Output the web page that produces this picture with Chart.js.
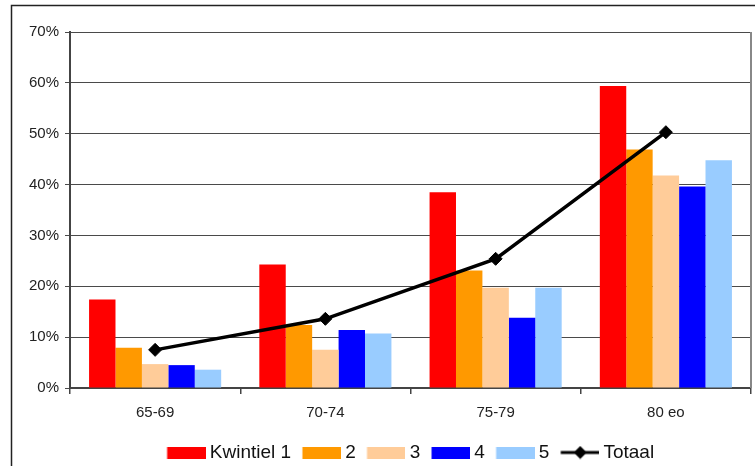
<!DOCTYPE html>
<html>
<head>
<meta charset="utf-8">
<script src="https://cdn.jsdelivr.net/npm/chart.js@4"></script>
<style>
  html, body { margin: 0; padding: 0; background: #fff; }
  #wrap { width: 755px; height: 466px; position: relative; }
</style>
</head>
<body>
<div id="wrap"><canvas id="kwintielChart"></canvas></div>
<script>
// leeftijdsgroepen en percentages per inkomenskwintiel
const categories = ["65-69", "70-74", "75-79", "80 eo"];
const kwintiel1 = [17.4, 24.3, 38.5, 59.4];
const kwintiel2 = [7.9, 12.4, 23.1, 46.9];
const kwintiel3 = [4.7, 7.5, 19.7, 41.8];
const kwintiel4 = [4.5, 11.4, 13.8, 39.6];
const kwintiel5 = [3.6, 10.7, 19.7, 44.8];
const totaal = [7.5, 13.6, 25.4, 50.3];
const yTicks = [0, 10, 20, 30, 40, 50, 60, 70];

const barColors = ["#ff0000", "#ff9900", "#ffcc99", "#0000ff", "#99ccff"];
const barLabels = ["Kwintiel 1", "2", "3", "4", "5"];
const barData = [kwintiel1, kwintiel2, kwintiel3, kwintiel4, kwintiel5];

const FONT = "Arial, 'Liberation Sans', sans-serif";

// legend box is 33.5 wide for layout; the marker canvas is wider so the
// drawn 39px swatch starts at the item's left edge and sits close to the text
const BOX_W = 33.5;
const MARK_W = 39;
const CANVAS_W = 2 * (MARK_W - BOX_W / 2);
const MARK_X = CANVAS_W / 2 - BOX_W / 2;

function boxMarker(color) {
  const c = document.createElement("canvas");
  c.width = CANVAS_W;
  c.height = 12;
  const g = c.getContext("2d");
  g.fillStyle = color;
  g.fillRect(MARK_X, 0, MARK_W, 12);
  return c;
}

function lineMarker() {
  const c = document.createElement("canvas");
  c.width = CANVAS_W;
  c.height = 14;
  const g = c.getContext("2d");
  const mid = MARK_X + MARK_W / 2;
  g.strokeStyle = "#000";
  g.lineWidth = 3;
  g.beginPath();
  g.moveTo(MARK_X, 7);
  g.lineTo(MARK_X + MARK_W, 7);
  g.stroke();
  g.fillStyle = "#000";
  g.beginPath();
  g.moveTo(mid, 0.5);
  g.lineTo(mid + 6.5, 7);
  g.lineTo(mid, 13.5);
  g.lineTo(mid - 6.5, 7);
  g.closePath();
  g.fill();
  return c;
}

const markers = barColors.map(boxMarker).concat([lineMarker()]);

const frame = {
  id: "frame",
  beforeDraw(chart) {
    const ctx = chart.ctx;
    ctx.save();
    ctx.fillStyle = "#fff";
    ctx.fillRect(0, 0, chart.width, chart.height);
    ctx.strokeStyle = "#222";
    ctx.lineWidth = 1.5;
    ctx.strokeRect(11.5, 5.5, 800, 500);
    ctx.restore();
  },
  afterDatasetsDraw(chart) {
    const a = chart.chartArea;
    const ctx = chart.ctx;
    ctx.save();
    ctx.strokeStyle = "#888";
    ctx.lineWidth = 2;
    ctx.beginPath();
    ctx.moveTo(a.right, a.top);
    ctx.lineTo(a.right, a.bottom);
    ctx.stroke();
    ctx.restore();
  }
};

const datasets = barData.map((d, i) => ({
  type: "bar",
  label: barLabels[i],
  data: d,
  backgroundColor: barColors[i],
  borderWidth: 0,
  categoryPercentage: 0.776,
  barPercentage: 1,
  order: 1
}));

datasets.push({
  type: "line",
  label: "Totaal",
  data: totaal,
  borderColor: "#000",
  borderWidth: 3.5,
  backgroundColor: "#000",
  pointStyle: "rectRot",
  pointRadius: 6.5,
  pointBorderWidth: 1,
  pointBackgroundColor: "#000",
  tension: 0,
  order: 0
});

new Chart(document.getElementById("kwintielChart"), {
  data: { labels: categories, datasets: datasets },
  plugins: [frame],
  options: {
    responsive: true,
    maintainAspectRatio: false,
    animation: false,
    layout: { autoPadding: false, padding: { left: 11, top: 32, right: 4, bottom: -6 } },
    plugins: {
      tooltip: { enabled: false },
      legend: {
        position: "bottom",
        fullSize: false,
        labels: {
          usePointStyle: true,
          pointStyleWidth: BOX_W,
          boxHeight: 12,
          padding: 11,
          color: "#111",
          font: { family: FONT, size: 19 },
          sort: (a, b) => a.datasetIndex - b.datasetIndex,
          generateLabels(chart) {
            const items = Chart.defaults.plugins.legend.labels.generateLabels(chart);
            items.forEach((it) => {
              it.pointStyle = markers[it.datasetIndex];
            });
            return items;
          }
        }
      }
    },
    scales: {
      x: {
        offset: true,
        grid: {
          offset: true,
          drawOnChartArea: false,
          drawTicks: true,
          tickLength: 6,
          color: "#444",
          lineWidth: 1.5
        },
        border: { color: "#444", width: 2 },
        ticks: { color: "#222", padding: 10, font: { family: FONT, size: 15 } },
        afterFit(scale) { scale.height = 44; }
      },
      y: {
        min: 0,
        max: 70,
        afterBuildTicks(scale) {
          scale.ticks = yTicks.map((v) => ({ value: v }));
        },
        grid: { color: "#4a4a4a", lineWidth: 1, tickLength: 5 },
        border: { color: "#444", width: 2 },
        ticks: {
          color: "#222",
          padding: 6,
          font: { family: FONT, size: 15 },
          callback: (v) => v + "%"
        },
        afterFit(scale) { scale.width = 59; }
      }
    }
  }
});
</script>
</body>
</html>
